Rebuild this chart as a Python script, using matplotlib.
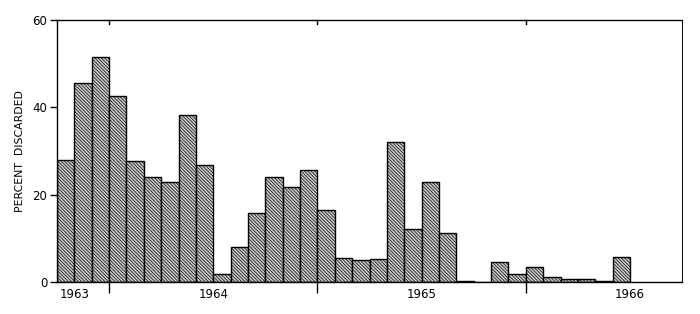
import matplotlib
matplotlib.use("Agg")
import matplotlib.pyplot as plt

# month index from Jan 1963 = 0; bars Apr 1963 .. Dec 1965
start_month = 3
percent_discarded = [
    28.0, 45.7, 51.5, 42.7, 27.8, 24.0, 23.0, 38.2, 26.9,        # Apr-Dec 1963
    1.9, 8.0, 15.9, 24.0, 21.8, 25.7, 16.6, 5.5, 5.0, 5.2, 32.1, 12.2,  # 1964
    22.9, 11.3, 0.3, 0.0, 4.6, 1.9, 3.4, 1.1, 0.7, 0.6, 0.2, 5.8,      # 1965
]
year_labels = ["1963", "1964", "1965", "1966"]
year_label_pos = [4.0, 12, 24, 36]
midyear_ticks = [6, 18, 30]
yticks = [0, 20, 40, 60]

plt.rcParams["font.family"] = ["DejaVu Sans"]
plt.rcParams["hatch.linewidth"] = 0.5
plt.rcParams["hatch.color"] = "#333333"

fig = plt.figure(figsize=(7.0, 3.14), dpi=100)
ax = fig.add_axes([0.0814, 0.102, 0.893, 0.834])

months = [start_month + i for i in range(len(percent_discarded))]
ax.bar(months, percent_discarded, width=1.0, align="edge",
       facecolor="#cccccc", edgecolor="black", linewidth=1.0,
       hatch="\\" * 10)

ax.set_xlim(3, 39)
ax.set_ylim(0, 60)

ax.set_yticks(yticks)
ax.set_yticklabels([str(v) for v in yticks], fontsize=8.5)
ax.tick_params(axis="y", direction="out", length=5, width=1, pad=2)

ax.set_xticks(midyear_ticks)
ax.set_xticklabels([])
ax.tick_params(axis="x", direction="out", length=8, width=1, top=False)

# inward short ticks along top
for m in midyear_ticks:
    ax.plot([m, m], [60, 59.0], color="black", linewidth=1, clip_on=False)

for lab, pos in zip(year_labels, year_label_pos):
    ax.text(pos, -1.4, lab, ha="center", va="top", fontsize=8.5,
            transform=ax.transData)

for s in ax.spines.values():
    s.set_linewidth(1.0)
ax.spines["right"].set_linewidth(0.7)

ax.set_ylabel("PERCENT  DISCARDED", fontsize=7.8, labelpad=5)

fig.savefig("out.png", dpi=100)
